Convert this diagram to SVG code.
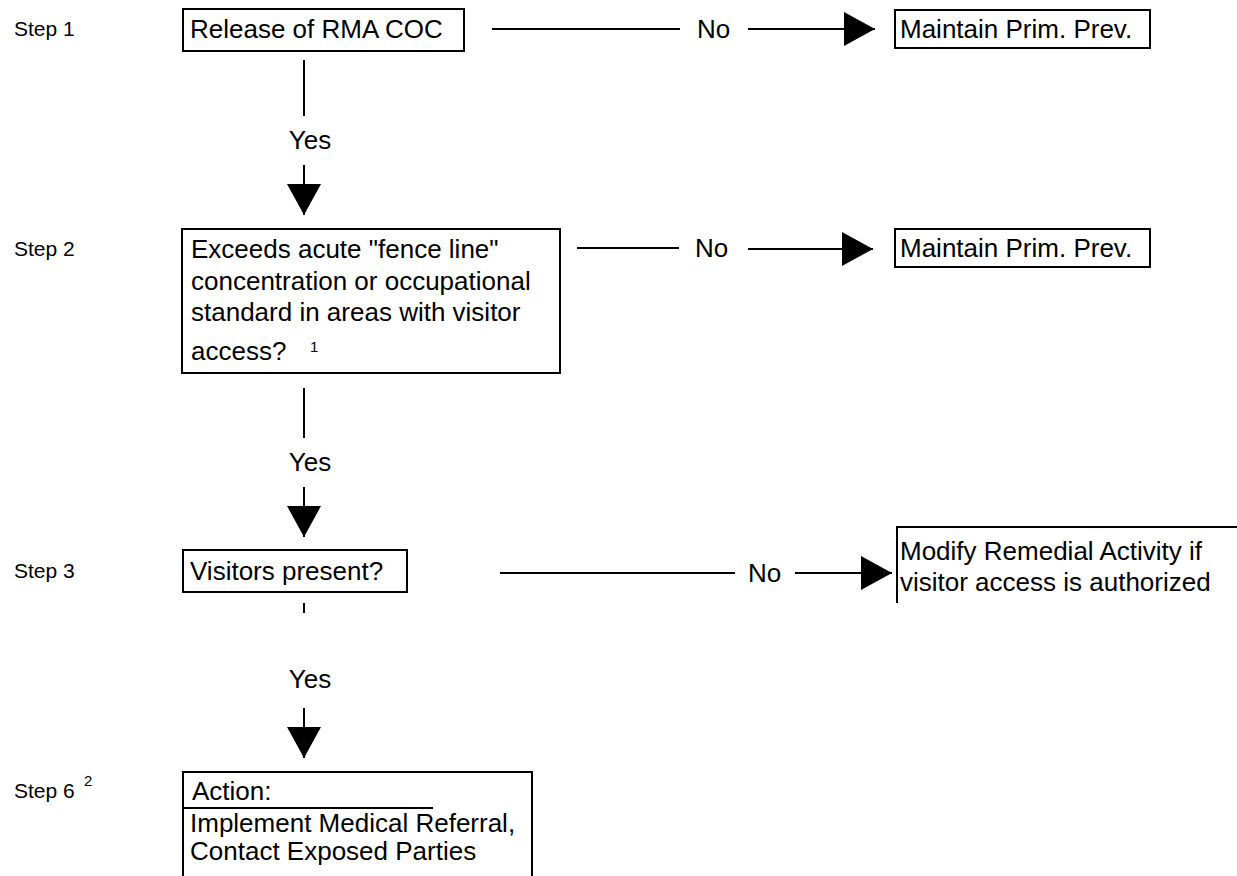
<svg xmlns="http://www.w3.org/2000/svg" width="1237" height="876" viewBox="0 0 1237 876">
<style>
text{font-family:"Liberation Sans",Arial,sans-serif;font-size:26px;fill:#000}
.step{font-size:21px}
.sup{font-size:15px}
.box{fill:none;stroke:#000;stroke-width:2}
.ln{stroke:#000;stroke-width:2;fill:none}
</style>
<defs>
<marker id="ah" markerUnits="userSpaceOnUse" markerWidth="32" markerHeight="34" refX="31" refY="17" orient="auto">
<path d="M0,0 L31,17 L0,34 z" fill="#000"/>
</marker>
</defs>
<rect width="1237" height="876" fill="#fff"/>
<g id="steps">
<text class="step" x="14" y="36">Step 1</text>
<text class="step" x="14" y="256">Step 2</text>
<text class="step" x="14" y="578">Step 3</text>
<text class="step" x="14" y="798">Step 6</text>
<text class="sup" x="84" y="786">2</text>
</g>
<g id="n1">
<rect class="box" x="183" y="9" width="281" height="42"/>
<text x="190" y="38">Release of RMA COC</text>
</g>
<g id="n1no">
<rect class="box" x="895" y="10" width="255" height="38"/>
<text x="900" y="38">Maintain Prim. Prev.</text>
</g>
<g id="n2">
<rect class="box" x="182" y="229" width="378" height="144"/>
<text x="191" y="258">Exceeds acute "fence line"</text>
<text x="191" y="290">concentration or occupational</text>
<text x="191" y="321">standard in areas with visitor</text>
<text x="191" y="360">access?</text>
<text class="sup" x="310" y="352">1</text>
</g>
<g id="n2no">
<rect class="box" x="895" y="229" width="255" height="38"/>
<text x="900" y="257">Maintain Prim. Prev.</text>
</g>
<g id="n3">
<rect class="box" x="183" y="550" width="224" height="42"/>
<text x="190" y="580">Visitors present?</text>
</g>
<g id="n3no">
<path class="ln" d="M897,603 V527 H1237"/>
<text x="900" y="560">Modify Remedial Activity if</text>
<text x="900" y="591">visitor access is authorized</text>
</g>
<g id="n4">
<path class="ln" d="M183,880 V772 H532 V880"/>
<line class="ln" x1="183" y1="808" x2="433" y2="808"/>
<text x="192" y="800">Action:</text>
<text x="190" y="832">Implement Medical Referral,</text>
<text x="190" y="860">Contact Exposed Parties</text>
</g>
<g id="connectors">
<line class="ln" x1="304" y1="60" x2="304" y2="116"/>
<text x="310" y="149" text-anchor="middle">Yes</text>
<line class="ln" x1="304" y1="165" x2="304" y2="215" marker-end="url(#ah)"/>
<line class="ln" x1="492" y1="29" x2="680" y2="29"/>
<text x="697" y="38">No</text>
<line class="ln" x1="748" y1="29" x2="875" y2="29" marker-end="url(#ah)"/>

<line class="ln" x1="304" y1="388" x2="304" y2="438"/>
<text x="310" y="471" text-anchor="middle">Yes</text>
<line class="ln" x1="304" y1="487" x2="304" y2="537" marker-end="url(#ah)"/>
<line class="ln" x1="577" y1="248" x2="679" y2="248"/>
<text x="695" y="257">No</text>
<line class="ln" x1="748" y1="249" x2="873" y2="249" marker-end="url(#ah)"/>

<line class="ln" x1="304" y1="603" x2="304" y2="613"/>
<text x="310" y="688" text-anchor="middle">Yes</text>
<line class="ln" x1="304" y1="708" x2="304" y2="758" marker-end="url(#ah)"/>
<line class="ln" x1="500" y1="573" x2="735" y2="573"/>
<text x="748" y="582">No</text>
<line class="ln" x1="795" y1="573" x2="892" y2="573" marker-end="url(#ah)"/>
</g>
</svg>
